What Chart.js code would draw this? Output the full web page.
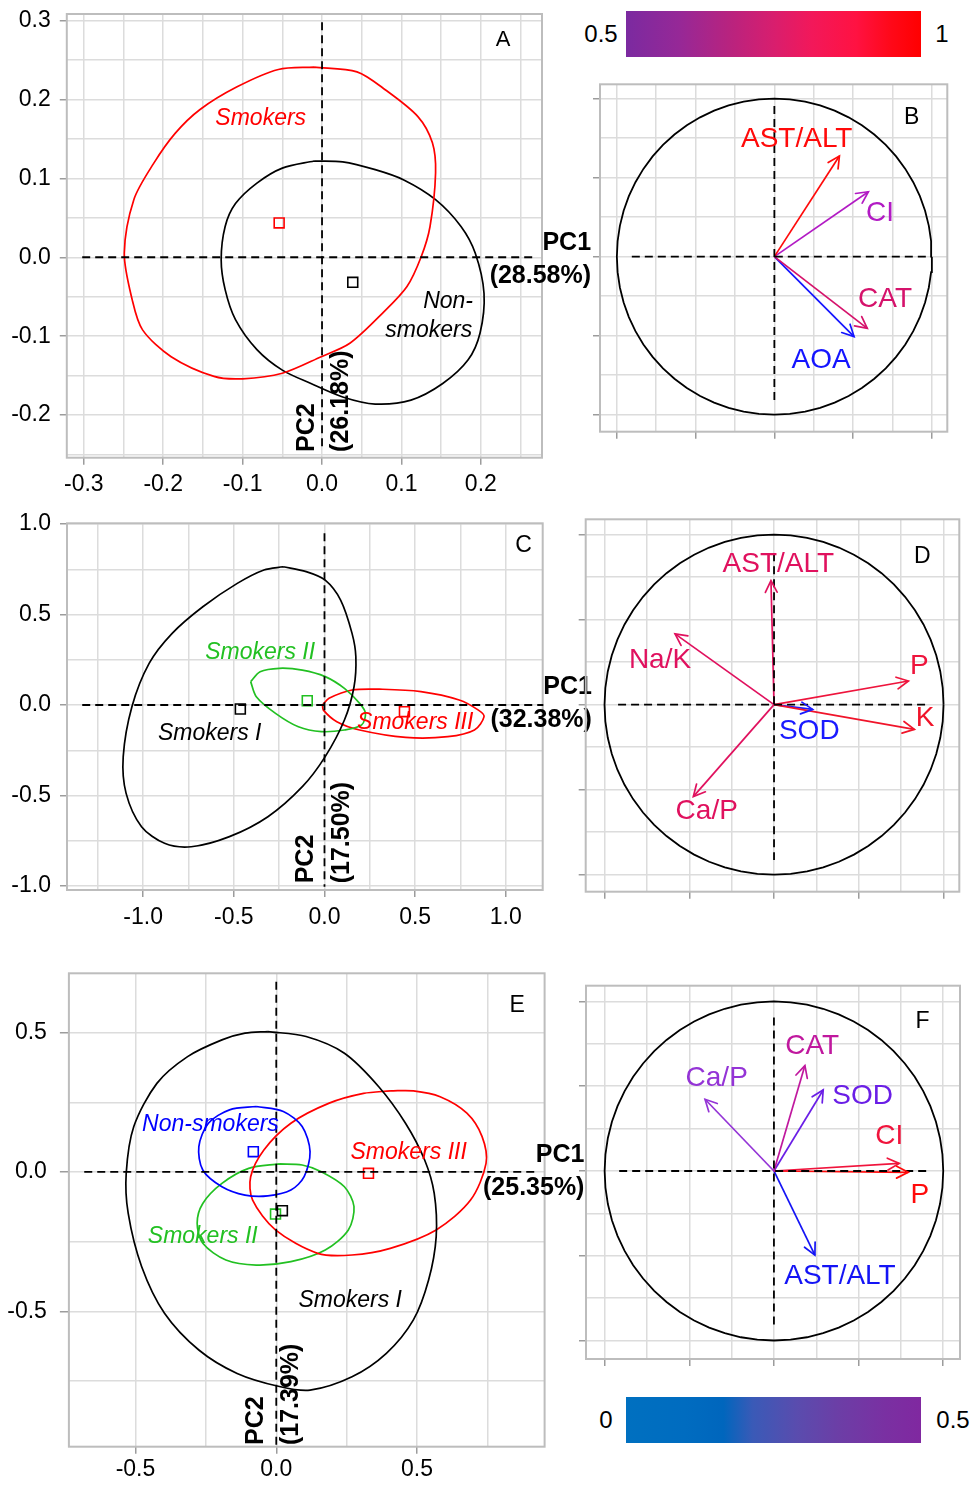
<!DOCTYPE html>
<html>
<head>
<meta charset="utf-8">
<script src="https://cdn.jsdelivr.net/npm/chart.js@4.4.1/dist/chart.umd.min.js"></script>
<style>
  html, body { margin: 0; padding: 0; background: #fff; }
  #fig { position: relative; width: 974px; height: 1488px; overflow: hidden; background: #fff;
         font-family: "Liberation Sans", Arial, sans-serif; }
  #fig canvas { position: absolute; }
  .bar { position: absolute; width: 295px; height: 46px; }
  .barlab { position: absolute; font-size: 24px; color: #000; transform: translate(-50%, -50%); white-space: nowrap; }
</style>
</head>
<body>
<div id="fig">
  <div class="bar" style="left:626px;top:11px;background:linear-gradient(to right,#7b2aa0 0%,#962897 18%,#b8237f 35%,#d81e6e 50%,#f2185a 63%,#ff1242 78%,#ff0818 90%,#ff0000 100%);"></div>
  <div class="barlab" style="left:601px;top:34px;">0.5</div>
  <div class="barlab" style="left:942px;top:34px;">1</div>
  <div class="bar" style="left:626px;top:1397px;background:linear-gradient(to right,#0070c0 0%,#006cc0 20%,#0066bd 33%,#3a5ab7 43%,#5a4cae 58%,#6c3ea6 72%,#7a30a2 88%,#8028a0 100%);"></div>
  <div class="barlab" style="left:606px;top:1420px;">0</div>
  <div class="barlab" style="left:953px;top:1420px;">0.5</div>
</div>
<script>
// ---------- Panel A : score plot, two groups ----------
const A_X_TICKS = [-0.3, -0.2, -0.1, 0, 0.1, 0.2];
const A_X_LABELS = ['-0.3', '-0.2', '-0.1', '0.0', '0.1', '0.2'];
const A_Y_TICKS = [-0.2, -0.1, 0, 0.1, 0.2, 0.3];
const A_Y_LABELS = ['-0.2', '-0.1', '0.0', '0.1', '0.2', '0.3'];
const A_CENTROIDS = { smokers: [-0.054, 0.0435], nonSmokers: [0.0387, -0.0317] };
const A_SMOKERS_RING = [[-0.010,0.241],[-0.055,0.238],[-0.107,0.216],[-0.154,0.187],[-0.185,0.157],[-0.212,0.119],[-0.237,0.073],[-0.249,0.005],[-0.239,-0.054],[-0.226,-0.092],[-0.190,-0.126],[-0.136,-0.151],[-0.100,-0.154],[-0.050,-0.147],[-0.001,-0.126],[0.035,-0.109],[0.076,-0.071],[0.107,-0.037],[0.125,0.001],[0.136,0.039],[0.143,0.107],[0.139,0.145],[0.121,0.178],[0.080,0.212],[0.044,0.235]];
const A_NONSMOKERS_RING = [[-0.010,0.122],[0.026,0.121],[0.067,0.111],[0.103,0.098],[0.143,0.073],[0.175,0.039],[0.193,0.005],[0.204,-0.046],[0.199,-0.096],[0.184,-0.130],[0.152,-0.160],[0.112,-0.181],[0.067,-0.186],[0.026,-0.177],[-0.014,-0.160],[-0.050,-0.143],[-0.082,-0.117],[-0.109,-0.079],[-0.122,-0.041],[-0.127,-0.003],[-0.122,0.039],[-0.109,0.068],[-0.082,0.094],[-0.050,0.113]];

// ---------- Panel B : loadings ----------
const B_VARS = ['AST/ALT', 'CI', 'CAT', 'AOA'];
const B_PC1 = [0.413, 0.597, 0.590, 0.506];
const B_PC2 = [0.637, 0.411, -0.454, -0.506];

// ---------- Panel C : score plot, three smoker groups ----------
const C_TICKS = [-1, -0.5, 0, 0.5, 1];
const C_LABELS = ['-1.0', '-0.5', '0.0', '0.5', '1.0'];
const C_CENTROIDS = { s1: [-0.464, -0.022], s2: [-0.095, 0.024], s3: [0.441, -0.037] };
const C_SMOKERS1_RING = [[-0.228,0.764],[-0.101,0.737],[0.004,0.690],[0.089,0.580],[0.152,0.396],[0.173,0.267],[0.163,0.101],[0.110,-0.083],[0.004,-0.285],[-0.122,-0.451],[-0.312,-0.617],[-0.524,-0.727],[-0.735,-0.783],[-0.882,-0.764],[-1.009,-0.672],[-1.094,-0.488],[-1.110,-0.285],[-1.062,-0.009],[-0.967,0.230],[-0.840,0.396],[-0.671,0.543],[-0.481,0.672],[-0.334,0.746]];
const C_SMOKERS2_RING = [[-0.407,0.129],[-0.355,0.184],[-0.249,0.203],[-0.122,0.193],[0.004,0.157],[0.110,0.092],[0.194,0.009],[0.226,-0.046],[0.205,-0.110],[0.110,-0.138],[-0.017,-0.147],[-0.144,-0.120],[-0.270,-0.046],[-0.376,0.046]];
const C_SMOKERS3_RING = [[-0.011,0.000],[0.025,0.037],[0.152,0.083],[0.321,0.087],[0.532,0.074],[0.743,0.028],[0.849,-0.028],[0.880,-0.064],[0.827,-0.138],[0.680,-0.175],[0.448,-0.179],[0.194,-0.138],[0.068,-0.092],[-0.006,-0.028]];

// ---------- Panel D : loadings ----------
const D_VARS = ['AST/ALT', 'Na/K', 'P', 'K', 'SOD', 'Ca/P'];
const D_PC1 = [-0.018, -0.584, 0.793, 0.828, 0.228, -0.476];
const D_PC2 = [0.729, 0.416, 0.139, -0.145, -0.028, -0.541];

// ---------- Panel E : score plot, four groups ----------
const E_TICKS = [-0.5, 0, 0.5];
const E_LABELS = ['-0.5', '0.0', '0.5'];
const E_CENTROIDS = { non: [-0.0815, 0.073], s1: [0.0217, -0.139], s2: [-0.0027, -0.151], s3: [0.3275, -0.0048] };
const E_SMOKERS1_RING = [[-0.030,0.504],[0.106,0.486],[0.242,0.426],[0.364,0.306],[0.459,0.175],[0.527,0.043],[0.561,-0.077],[0.568,-0.232],[0.541,-0.388],[0.487,-0.531],[0.391,-0.651],[0.269,-0.735],[0.120,-0.783],[0.011,-0.770],[-0.139,-0.723],[-0.275,-0.639],[-0.397,-0.507],[-0.478,-0.340],[-0.526,-0.148],[-0.533,-0.005],[-0.506,0.163],[-0.424,0.318],[-0.315,0.414],[-0.193,0.474],[-0.111,0.498]];
const E_NONSMOKERS_RING = [[-0.071,0.235],[0.025,0.217],[0.092,0.163],[0.120,0.073],[0.099,-0.017],[0.052,-0.065],[-0.030,-0.086],[-0.111,-0.083],[-0.193,-0.053],[-0.261,0.007],[-0.275,0.091],[-0.241,0.175],[-0.166,0.223]];
const E_SMOKERS3_RING = [[0.405,0.291],[0.310,0.282],[0.188,0.247],[0.052,0.175],[-0.044,0.079],[-0.091,-0.017],[-0.084,-0.101],[-0.003,-0.208],[0.147,-0.292],[0.269,-0.298],[0.405,-0.274],[0.568,-0.208],[0.690,-0.101],[0.745,0.031],[0.731,0.127],[0.677,0.211],[0.582,0.270],[0.487,0.291]];
const E_SMOKERS2_RING = [[0.011,0.029],[-0.098,0.013],[-0.193,-0.041],[-0.261,-0.113],[-0.281,-0.184],[-0.261,-0.256],[-0.179,-0.316],[-0.071,-0.334],[0.052,-0.322],[0.174,-0.280],[0.256,-0.208],[0.276,-0.124],[0.242,-0.053],[0.160,0.001],[0.092,0.025]];

// ---------- Panel F : loadings ----------
const F_VARS = ['CAT', 'SOD', 'Ca/P', 'CI', 'P', 'AST/ALT'];
const F_PC1 = [0.183, 0.291, -0.407, 0.740, 0.793, 0.242];
const F_PC2 = [0.622, 0.478, 0.423, 0.045, -0.008, -0.496];

// circle ticks (no labels) for the loading panels
const CIRCLE_TICKS = [-1, -0.5, 0, 0.5, 1];

// ---------- styling ----------
const FONT = '"Liberation Sans", Arial, sans-serif';
const GRID = '#dcdcdc', FRAME = '#bdbdbd', TICKMARK = '#9c9c9c';
const RED = '#ff0000', GREEN = '#22c022', BLUE = '#0000ff', BLACK = '#000000';
const B_COLORS = ['#ff0a0a', '#b21ac4', '#d5126b', '#1414ff'];
const D_COLORS = ['#e0115e', '#e0115e', '#ee143c', '#f0142a', '#1a1aff', '#e0115e'];
const F_COLORS = ['#c0189e', '#6a1ee6', '#9434d6', '#f0143c', '#ff0a0a', '#1414f5'];

Chart.defaults.font.family = FONT;

const toPts = arr => arr.map(p => ({ x: p[0], y: p[1] }));
const ring = arr => toPts(arr.concat([arr[0]]));
const near = (a, b) => Math.abs(a - b) < 1e-6;

function gridValues(min, max, step) {
  const out = [];
  for (let k = Math.ceil(min / step - 1e-9); k * step <= max + 1e-9; k++) out.push(Math.round(k * step * 1e6) / 1e6);
  return out;
}

function unitCircle(n) {
  const out = [];
  for (let i = 0; i <= n; i++) { const a = 2 * Math.PI * i / n; out.push({ x: Math.cos(a), y: Math.sin(a) }); }
  return out;
}

function axis(spec, size, isX) {
  const vals = gridValues(spec.min, spec.max, spec.step);
  return {
    type: 'linear', position: isX ? 'bottom' : 'left', min: spec.min, max: spec.max,
    afterBuildTicks(s) { s.ticks = vals.map(v => ({ value: v })); },
    afterFit(s) {
      // fixed axis band; the plot frame is placed exactly by the layout padding
      if (isX) s.height = size; else s.width = size;
      s.paddingTop = 0; s.paddingBottom = 0; s.paddingLeft = 0; s.paddingRight = 0;
    },
    grid: {
      color: GRID, lineWidth: 1.5, drawTicks: true, tickLength: spec.tickLen || 7, tickWidth: 1.5,
      tickColor: c => (c.tick && spec.marks.some(m => near(m, c.tick.value))) ? TICKMARK : 'rgba(0,0,0,0)'
    },
    border: { display: false },
    ticks: {
      autoSkip: false, maxRotation: 0, minRotation: 0, padding: spec.pad || 8, color: '#000',
      font: { size: spec.font || 23 },
      callback(v) { const i = spec.marks.findIndex(m => near(m, v)); return (i >= 0 && spec.labels) ? spec.labels[i] : ''; }
    }
  };
}

const dashed = (a, b) => ({
  data: toPts([a, b]), showLine: true, borderColor: BLACK, borderWidth: 1.8, borderDash: [8, 5],
  pointRadius: 0, clip: false
});
const outline = (arr, color) => ({
  data: ring(arr), showLine: true, borderColor: color, borderWidth: 1.7, pointRadius: 0, tension: 0.3
});
const centroid = (p, color) => ({
  data: toPts([p]), pointStyle: 'rect', pointRadius: 7, borderColor: color, borderWidth: 1.6,
  backgroundColor: 'rgba(0,0,0,0)', showLine: false
});
const arrow = (x, y, color) => ({
  data: toPts([[0, 0], [x, y]]), showLine: true, borderColor: color, borderWidth: 1.7, pointRadius: 0, arrow: true
});
const circle = () => ({
  data: unitCircle(64), showLine: true, borderColor: BLACK, borderWidth: 1.8, pointRadius: 0
});

function makePanel(p) {
  const [L, T, W, H] = p.box;
  const [al, at, ar, ab] = p.area;
  const cv = document.createElement('canvas');
  cv.width = W; cv.height = H;
  Object.assign(cv.style, { left: L + 'px', top: T + 'px', width: W + 'px', height: H + 'px' });
  document.getElementById('fig').appendChild(cv);

  const decor = {
    id: 'decor' + p.id,
    beforeDatasetsDraw(chart) {
      const a = chart.chartArea, c = chart.ctx;
      c.save(); c.strokeStyle = FRAME; c.lineWidth = 2;
      c.strokeRect(a.left, a.top, a.right - a.left, a.bottom - a.top); c.restore();
    },
    afterDatasetsDraw(chart) {
      const c = chart.ctx;
      chart.data.datasets.forEach((ds, i) => {
        if (!ds.arrow) return;
        const pts = chart.getDatasetMeta(i).data;
        const p0 = pts[0], p1 = pts[pts.length - 1];
        const ang = Math.atan2(p1.y - p0.y, p1.x - p0.x), len = 13, h = 0.47;
        c.save(); c.strokeStyle = ds.borderColor; c.lineWidth = 1.7; c.lineCap = 'round';
        c.beginPath();
        c.moveTo(p1.x - len * Math.cos(ang - h), p1.y - len * Math.sin(ang - h));
        c.lineTo(p1.x, p1.y);
        c.lineTo(p1.x - len * Math.cos(ang + h), p1.y - len * Math.sin(ang + h));
        c.stroke(); c.restore();
      });
      const sx = chart.scales.x, sy = chart.scales.y;
      (p.texts || []).forEach(t => {
        const px = sx.getPixelForValue(t.x), py = sy.getPixelForValue(t.y);
        c.save(); c.font = t.font; c.fillStyle = t.color || BLACK;
        c.textAlign = t.align || 'center'; c.textBaseline = 'middle';
        if (t.rot) { c.translate(px, py); c.rotate(-Math.PI / 2); c.textAlign = 'left'; c.fillText(t.text, 0, 0); }
        else c.fillText(t.text, px, py);
        c.restore();
      });
    }
  };

  new Chart(cv.getContext('2d'), {
    type: 'scatter',
    data: { datasets: p.datasets },
    options: {
      responsive: false, animation: false, devicePixelRatio: 1, events: [],
      layout: { padding: { left: 0, top: at - T, right: L + W - ar, bottom: 0 } },
      plugins: { legend: { display: false }, tooltip: { enabled: false } },
      scales: { x: axis(p.x, T + H - ab, true), y: axis(p.y, al - L, false) }
    },
    plugins: [decor]
  });
}

const ITAL = 'italic 23px ' + FONT;
const BOLD = 'bold 25px ' + FONT;
const LETTER = '23px ' + FONT;
const VARF = '28px ' + FONT;

const loadingSets = (xs, ys, cols) => xs.map((x, i) => arrow(x, ys[i], cols[i]));

// Panel A
makePanel({
  id: 'A', box: [0, 0, 600, 500], area: [66.8, 14, 542, 457.7],
  x: { min: -0.3214, max: 0.277, step: 0.05, marks: A_X_TICKS, labels: A_X_LABELS, pad: 6 },
  y: { min: -0.254, max: 0.3083, step: 0.05, marks: A_Y_TICKS, labels: A_Y_LABELS, pad: 9 },
  datasets: [
    dashed([-0.302, 0], [0.27, 0]), dashed([0, 0.298], [0, -0.244]),
    outline(A_SMOKERS_RING, RED), outline(A_NONSMOKERS_RING, BLACK),
    centroid(A_CENTROIDS.smokers, RED), centroid(A_CENTROIDS.nonSmokers, BLACK)
  ],
  texts: [
    { text: 'Smokers', x: -0.0772, y: 0.1762, color: RED, font: ITAL },
    { text: 'Non-', x: 0.1587, y: -0.0563, font: ITAL },
    { text: 'smokers', x: 0.1343, y: -0.0934, font: ITAL },
    { text: 'A', x: 0.228, y: 0.2754, font: '22px ' + FONT },
    { text: 'PC1', x: 0.3388, y: 0.0181, align: 'right', font: BOLD },
    { text: '(28.58%)', x: 0.3388, y: -0.0237, align: 'right', font: BOLD },
    { text: 'PC2', x: -0.0189, y: -0.2467, rot: true, font: BOLD },
    { text: '(26.18%)', x: 0.0239, y: -0.2467, rot: true, font: BOLD }
  ]
});

// Panel B
makePanel({
  id: 'B', box: [570, 70, 404, 400], area: [600, 84.3, 947.3, 431.7],
  x: { min: -1.107, max: 1.098, step: 0.25, marks: CIRCLE_TICKS, labels: null },
  y: { min: -1.108, max: 1.091, step: 0.25, marks: CIRCLE_TICKS, labels: null },
  datasets: [
    dashed([-0.905, 0], [0.988, 0]), dashed([0, 0.954], [0, -0.907]), circle()
  ].concat(loadingSets(B_PC1, B_PC2, B_COLORS)),
  texts: [
    { text: B_VARS[0], x: 0.142, y: 0.743, color: B_COLORS[0], font: VARF },
    { text: B_VARS[1], x: 0.671, y: 0.275, color: B_COLORS[1], font: VARF },
    { text: B_VARS[2], x: 0.703, y: -0.27, color: B_COLORS[2], font: VARF },
    { text: B_VARS[3], x: 0.2965, y: -0.658, color: B_COLORS[3], font: VARF },
    { text: 'B', x: 0.872, y: 0.882, font: LETTER }
  ]
});

// Panel C
makePanel({
  id: 'C', box: [0, 500, 600, 440], area: [67, 523.3, 542.7, 890],
  x: { min: -1.42, max: 1.2035, step: 0.25, marks: C_TICKS, labels: C_LABELS, pad: 7 },
  y: { min: -1.022, max: 1.004, step: 0.25, marks: C_TICKS, labels: C_LABELS, pad: 9 },
  datasets: [
    dashed([-1.336, 0], [1.207, 0]), dashed([0, 0.949], [0, -1.004]),
    outline(C_SMOKERS1_RING, BLACK), outline(C_SMOKERS2_RING, GREEN), outline(C_SMOKERS3_RING, RED),
    centroid(C_CENTROIDS.s1, BLACK), centroid(C_CENTROIDS.s2, GREEN), centroid(C_CENTROIDS.s3, RED)
  ],
  texts: [
    { text: 'Smokers II', x: -0.3547, y: 0.289, color: GREEN, font: ITAL },
    { text: 'Smokers I', x: -0.633, y: -0.156, font: ITAL },
    { text: 'Smokers III', x: 0.5003, y: -0.0978, color: RED, font: ITAL },
    { text: 'C', x: 1.0976, y: 0.8785, font: LETTER },
    { text: 'PC1', x: 1.475, y: 0.101, align: 'right', font: BOLD },
    { text: '(32.38%)', x: 1.475, y: -0.0829, align: 'right', font: BOLD },
    { text: 'PC2', x: -0.101, y: -0.985, rot: true, font: BOLD },
    { text: '(17.50%)', x: 0.0993, y: -0.985, rot: true, font: BOLD }
  ]
});

// Panel D
makePanel({
  id: 'D', box: [560, 505, 414, 420], area: [585.7, 519.3, 959.3, 891.7],
  x: { min: -1.111, max: 1.093, step: 0.25, marks: CIRCLE_TICKS, labels: null },
  y: { min: -1.1, max: 1.09, step: 0.25, marks: CIRCLE_TICKS, labels: null },
  datasets: [
    dashed([-0.92, 0], [0.91, 0]), dashed([0, 0.89], [0, -0.914]), circle()
  ].concat(loadingSets(D_PC1, D_PC2, D_COLORS)),
  texts: [
    { text: D_VARS[0], x: 0.0254, y: 0.828, color: D_COLORS[0], font: VARF },
    { text: D_VARS[1], x: -0.6726, y: 0.259, color: D_COLORS[1], font: VARF },
    { text: D_VARS[2], x: 0.857, y: 0.228, color: D_COLORS[2], font: VARF },
    { text: D_VARS[3], x: 0.891, y: -0.08, color: D_COLORS[3], font: VARF },
    { text: D_VARS[4], x: 0.208, y: -0.155, color: D_COLORS[4], font: VARF },
    { text: D_VARS[5], x: -0.397, y: -0.629, color: D_COLORS[5], font: VARF },
    { text: 'D', x: 0.875, y: 0.871, font: LETTER }
  ]
});

// Panel E
makePanel({
  id: 'E', box: [0, 950, 600, 538], area: [68.9, 973.3, 544.6, 1446.7],
  x: { min: -0.7365, max: 0.953, step: 0.25, marks: E_TICKS, labels: E_LABELS, pad: 2 },
  y: { min: -0.986, max: 0.713, step: 0.25, marks: E_TICKS, labels: E_LABELS, pad: 13, tickLen: 9 },
  datasets: [
    dashed([-0.682, 0], [0.928, 0]), dashed([0, 0.683], [0, -0.986]),
    outline(E_SMOKERS1_RING, BLACK), outline(E_NONSMOKERS_RING, BLUE),
    outline(E_SMOKERS3_RING, RED), outline(E_SMOKERS2_RING, GREEN),
    centroid(E_CENTROIDS.non, BLUE), centroid(E_CENTROIDS.s1, BLACK),
    centroid(E_CENTROIDS.s2, GREEN), centroid(E_CENTROIDS.s3, RED)
  ],
  texts: [
    { text: 'Non-smokers', x: -0.2337, y: 0.1687, color: BLUE, font: ITAL },
    { text: 'Smokers III', x: 0.4702, y: 0.0693, color: RED, font: ITAL },
    { text: 'Smokers II', x: -0.261, y: -0.2322, color: GREEN, font: ITAL },
    { text: 'Smokers I', x: 0.2624, y: -0.462, font: ITAL },
    { text: 'E', x: 0.856, y: 0.5958, font: LETTER },
    { text: 'PC1', x: 1.0945, y: 0.061, align: 'right', font: BOLD },
    { text: '(25.35%)', x: 1.0945, y: -0.0585, align: 'right', font: BOLD },
    { text: 'PC2', x: -0.0707, y: -0.98, rot: true, font: BOLD },
    { text: '(17.39%)', x: 0.0543, y: -0.98, rot: true, font: BOLD }
  ]
});

// Panel F
makePanel({
  id: 'F', box: [560, 970, 414, 410], area: [586, 985.7, 960, 1359],
  x: { min: -1.11, max: 1.099, step: 0.25, marks: CIRCLE_TICKS, labels: null },
  y: { min: -1.109, max: 1.093, step: 0.25, marks: CIRCLE_TICKS, labels: null },
  datasets: [
    dashed([-0.914, 0], [0.911, 0]), dashed([0, 0.905], [0, -0.909]), circle()
  ].concat(loadingSets(F_PC1, F_PC2, F_COLORS)),
  texts: [
    { text: F_VARS[0], x: 0.226, y: 0.733, color: F_COLORS[0], font: VARF },
    { text: F_VARS[1], x: 0.524, y: 0.442, color: F_COLORS[1], font: VARF },
    { text: F_VARS[2], x: -0.338, y: 0.547, color: F_COLORS[2], font: VARF },
    { text: F_VARS[3], x: 0.681, y: 0.202, color: F_COLORS[3], font: VARF },
    { text: F_VARS[4], x: 0.862, y: -0.1416, color: F_COLORS[4], font: VARF },
    { text: F_VARS[5], x: 0.39, y: -0.619, color: F_COLORS[5], font: VARF },
    { text: 'F', x: 0.878, y: 0.881, font: LETTER }
  ]
});
</script>
</body>
</html>
